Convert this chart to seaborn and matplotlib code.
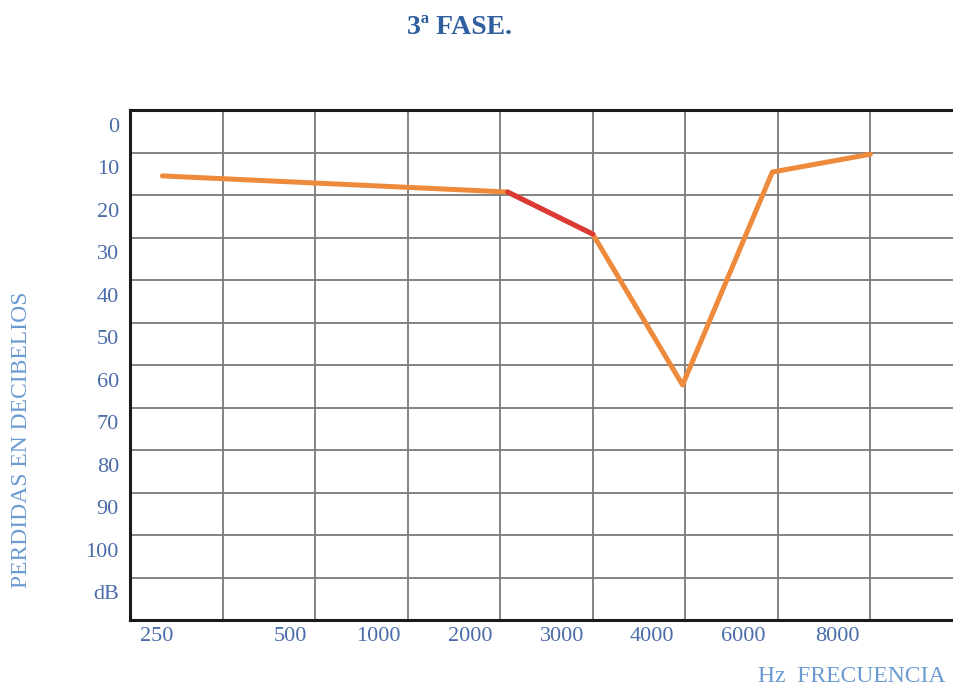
import matplotlib
matplotlib.use("Agg")
import matplotlib.pyplot as plt
import seaborn as sns
import pandas as pd

# ---- data ----
freq_labels = ["250", "500", "1000", "2000", "3000", "4000", "6000", "8000"]
freq_label_pos = [0.29, 1.73, 2.68, 3.68, 4.67, 5.64, 6.63, 7.64]
db_labels = ["0", "10", "20", "30", "40", "50", "60", "70", "80", "90", "100", "dB"]

point_freq = [250, 2000, 3000, 4000, 6000, 8000]
point_x = [0.35, 4.08, 5.0, 5.97, 6.94, 8.0]
point_loss = [15.5, 19.3, 29.2, 64.7, 14.6, 10.4]

df = pd.DataFrame({"freq": point_freq, "x": point_x, "loss": point_loss})
red_seg = df[df["freq"].isin([2000, 3000])]

sns.set_theme(style="white")
plt.rcParams["font.family"] = ["Liberation Serif", "DejaVu Serif"]

fig = plt.figure(figsize=(9.54, 6.9), dpi=100)
ax = fig.add_axes([130 / 954, 70 / 690, 833 / 954, 510 / 690])

orange = "#EE8A3C"
red = "#D93A36"
sns.lineplot(data=df, x="x", y="loss", ax=ax, color=orange, linewidth=3.6,
             sort=False, estimator=None)
sns.lineplot(data=red_seg, x="x", y="loss", ax=ax, color=red, linewidth=3.6,
             sort=False, estimator=None)

ax.set_xlim(0, 9)
ax.set_ylim(120, 0)

ax.set_xticks(range(1, 9), minor=True)
ax.set_yticks(range(10, 120, 10), minor=True)
ax.set_xticks(freq_label_pos)
ax.set_xticklabels(freq_labels)
ax.set_yticks([3.5 + 10 * i for i in range(len(db_labels))])
ax.set_yticklabels(db_labels)

ax.grid(False, which="major")
ax.grid(True, which="minor", color="#7a7a7a", linewidth=1.3)
ax.tick_params(which="both", length=0)
ax.tick_params(axis="x", which="major", pad=5, labelsize=16, labelcolor="#4a6ca8")
ax.tick_params(axis="y", which="major", pad=8, labelsize=16, labelcolor="#4a6ca8")

for s in ["top", "left", "bottom"]:
    ax.spines[s].set_color("#1a1a1a")
    ax.spines[s].set_linewidth(2.2)
ax.spines["right"].set_visible(False)

ax.set_xlabel("")
ax.set_ylabel("")

fig.text(22 / 954, 1 - 440 / 690, "PERDIDAS EN DECIBELIOS", rotation=90,
         ha="center", va="center", fontsize=17, color="#6b9bd2")
fig.text(758 / 954, 1 - 677 / 690, "Hz  FRECUENCIA", ha="left", va="center",
         fontsize=17, color="#6b9bd2")
fig.text(460 / 954, 1 - 28 / 690, "3ª FASE.", ha="center", va="center",
         fontsize=20, fontweight="bold", color="#2f5f9f")

fig.savefig("out.png", dpi=100)
